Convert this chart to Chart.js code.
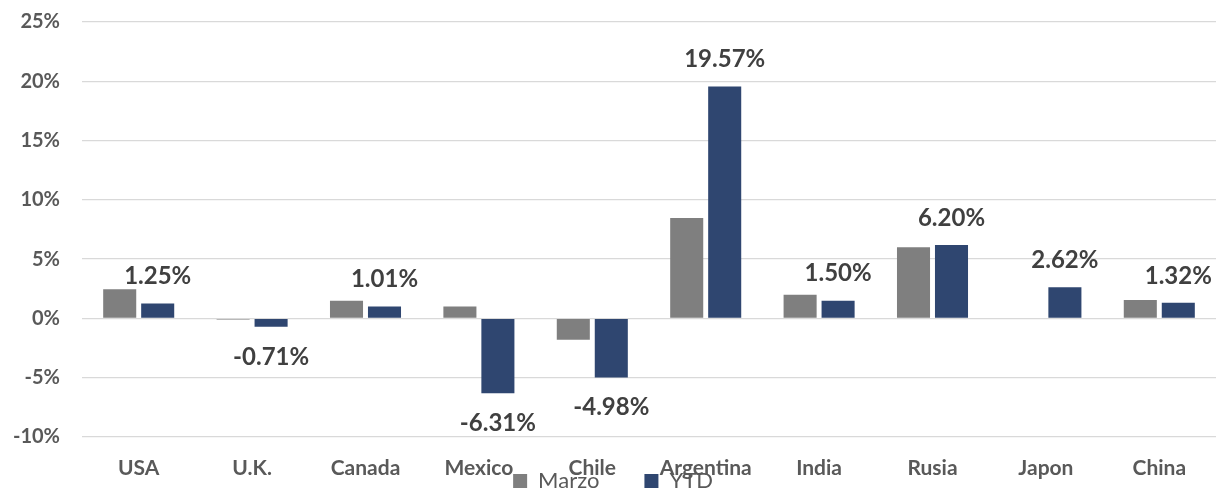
<!DOCTYPE html>
<html lang="es">
<head>
    <meta charset="UTF-8">
    <title>Marzo vs YTD</title>
    <script src="https://cdn.jsdelivr.net/npm/chart.js"></script>
    <style>
        body { margin: 0; background: #fff; }
        .chart-container { width: 1217px; height: 492px; }
    </style>
</head>
<body>
    <div class="chart-container">
        <canvas id="returnsChart"></canvas>
    </div>

    <script>
        const countries = ["USA", "U.K.", "Canada", "Mexico", "Chile", "Argentina", "India", "Rusia", "Japon", "China"];
        const marzo = [2.47, -0.1, 1.5, 1.0, -1.8, 8.46, 2.0, 6.0, 0.05, 1.55];
        const ytd = [1.25, -0.71, 1.01, -6.31, -4.98, 19.57, 1.50, 6.20, 2.62, 1.32];
        const yTicks = [-10, -5, 0, 5, 10, 15, 20, 25];

        // labels on the YTD bars, above positive values and below negative ones
        const ytdLabels = {
            id: "ytdLabels",
            afterDatasetsDraw(chart) {
                const ctx = chart.ctx;
                const meta = chart.getDatasetMeta(1);
                ctx.save();
                ctx.font = "bold 24px Lato";
                ctx.fillStyle = "#404040";
                ctx.textAlign = "center";
                ctx.textBaseline = "middle";
                meta.data.forEach((bar, i) => {
                    const v = ytd[i];
                    const y = v >= 0 ? bar.y - 27 : bar.y + 30;
                    ctx.fillText(v.toFixed(2) + "%", bar.x, y);
                });
                ctx.restore();
            }
        };

        new Chart(document.getElementById("returnsChart"), {
            type: "bar",
            data: {
                labels: countries,
                datasets: [
                    { label: "Marzo", data: marzo, backgroundColor: "#7f7f7f", borderWidth: 0 },
                    { label: "YTD", data: ytd, backgroundColor: "#2f4670", borderWidth: 0 }
                ]
            },
            options: {
                responsive: true,
                maintainAspectRatio: false,
                animation: false,
                layout: { padding: { left: 10, right: 1, top: 22, bottom: 0 } },
                datasets: { bar: { categoryPercentage: 0.67, barPercentage: 0.87 } },
                plugins: {
                    tooltip: { enabled: false },
                    legend: {
                        position: "bottom",
                        maxHeight: 22,
                        labels: {
                            font: { family: "Lato", size: 22 },
                            color: "#595959",
                            boxWidth: 14,
                            boxHeight: 14,
                            padding: 0,
                            generateLabels(chart) {
                                const items = Chart.defaults.plugins.legend.labels.generateLabels(chart);
                                items[0].text = items[0].text + "\u00a0".repeat(8);
                                return items;
                            }
                        }
                    }
                },
                scales: {
                    x: {
                        grid: { display: false, drawTicks: false },
                        border: { display: false },
                        afterFit(scale) { scale.height = 33; },
                        ticks: {
                            color: "#595959",
                            font: { family: "Lato", size: 21, weight: "bold" },
                            // mirror + negative padding keeps the labels from being clipped to the axis box
                            mirror: true,
                            padding: -44,
                            maxRotation: 0,
                            autoSkip: false
                        }
                    },
                    y: {
                        min: yTicks[0],
                        max: yTicks[yTicks.length - 1],
                        afterBuildTicks(scale) {
                            scale.ticks = yTicks.map(v => ({ value: v }));
                        },
                        afterFit(scale) {
                            scale.width = 72;
                            scale.paddingTop = 0;
                            scale.paddingBottom = 0;
                        },
                        grid: { color: "#d9d9d9", lineWidth: 1.3, drawTicks: false },
                        border: { display: false },
                        ticks: {
                            color: "#595959",
                            font: { family: "Lato", size: 20, weight: "bold" },
                            padding: 22,
                            callback: v => v + "%"
                        }
                    }
                }
            },
            plugins: [ytdLabels]
        });
    </script>
</body>
</html>
